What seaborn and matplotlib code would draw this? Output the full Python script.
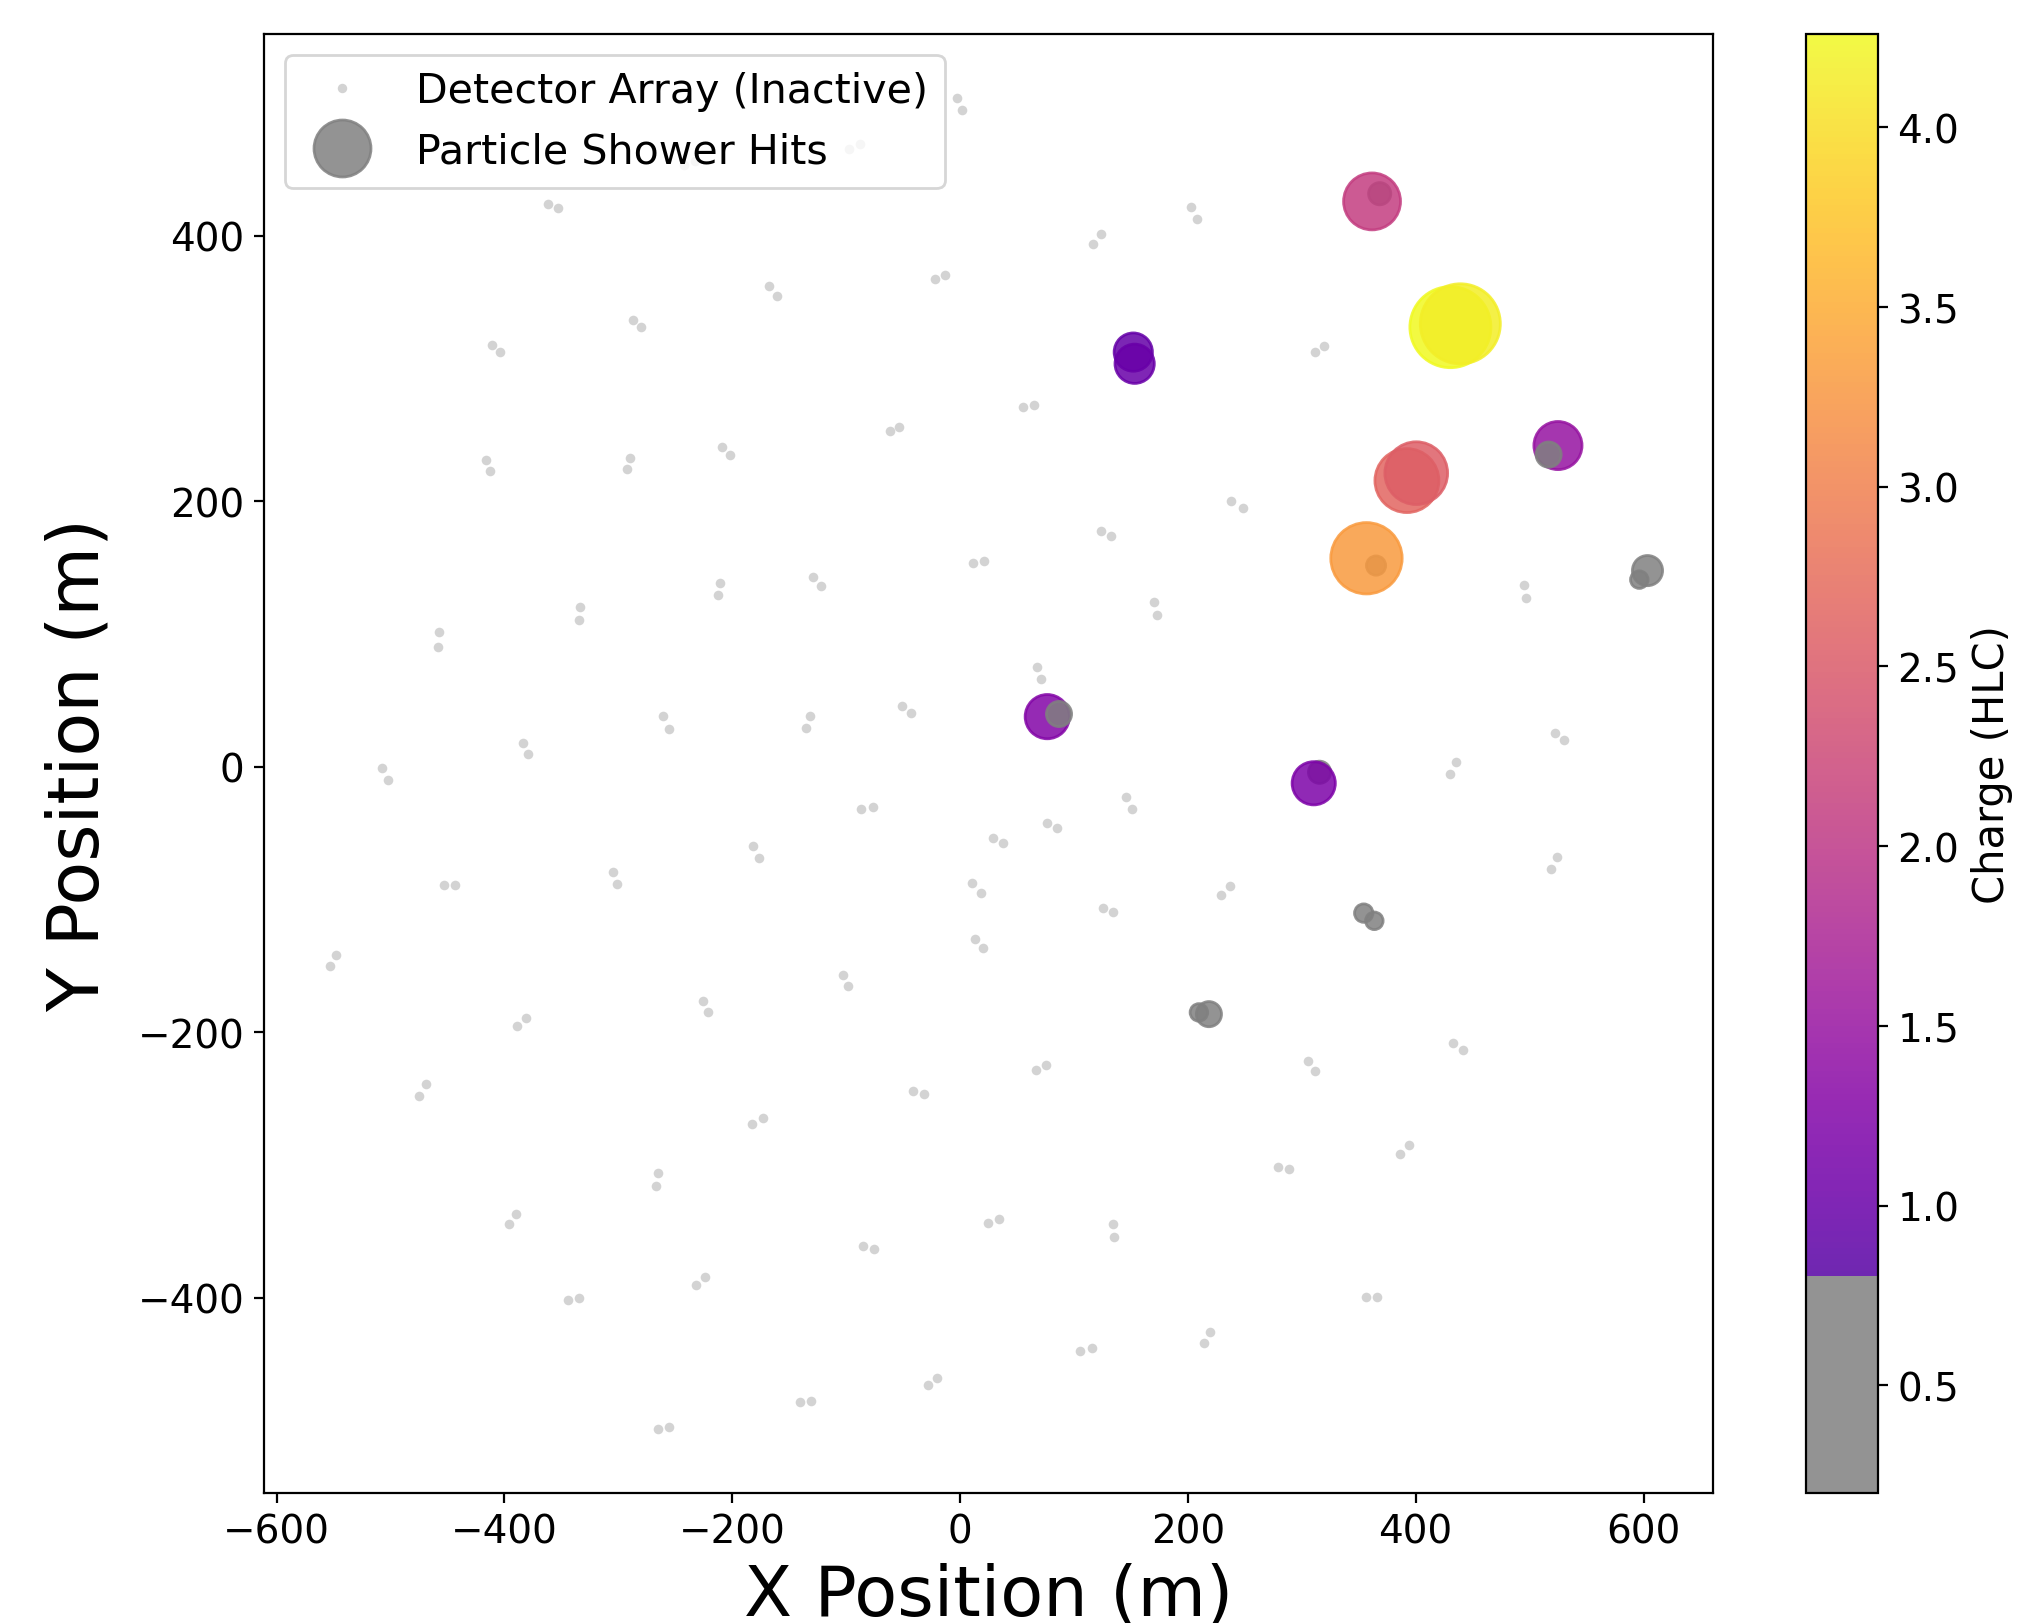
import numpy as np
import matplotlib
matplotlib.use("Agg")
import matplotlib.pyplot as plt
import seaborn as sns
import pandas as pd
from matplotlib.colors import ListedColormap, Normalize, to_rgba
from matplotlib.lines import Line2D

# ---------------- data ----------------
# inactive detector tanks (two tanks per station)
tank_x = [-362.0, -353.3, -241.9, -233.0, -97.3, -87.7, -2.3, 2.0, -287.4, -280.1,
          -411.1, -403.7, -416.0, -412.3, -289.4, -292.7, -209.0, -201.8, 202.4, 207.7,
          116.9, 123.5, -167.6, -161.1, -22.2, -12.9, 55.6, 64.9, -61.6, -53.5,
          237.5, 248.6, 312.0, 319.9, -457.0, -458.5, -333.3, -334.4, -210.5, -212.3,
          -260.6, -255.9, -383.9, -379.0, -507.3, -502.3, -452.6, -443.0, -304.6, -300.9,
          -548.2, -553.5, -225.2, -221.6, -129.5, -122.1, 11.4, 21.1, 124.0, 132.7,
          170.2, 172.6, 67.3, 71.3, -51.1, -43.2, -131.6, -134.8, -86.5, -76.5,
          -181.3, -176.3, 145.4, 150.7, 76.1, 85.4, 29.2, 37.4, 10.5, 18.5,
          125.5, 134.5, 236.6, 228.7, 13.2, 20.5, -102.6, -98.2, 495.3, 496.5,
          521.9, 530.4, 435.3, 429.9, 524.0, 518.4, -381.3, -388.9, -468.7, -474.5,
          -182.4, -173.1, -265.5, -266.6, -390.1, -395.6, -344.5, -334.4, -224.0, -231.6,
          -265.5, -255.9, 66.4, 75.7, -40.9, -31.6, -85.3, -75.7, 24.8, 34.2,
          134.0, 135.1, 219.6, 214.3, 105.5, 115.6, -27.8, -20.2, -140.4, -130.5,
          305.2, 311.4, 432.8, 441.5, 279.3, 289.2, 393.9, 386.3, 356.4, 366.0]
tank_y = [424.1, 421.1, 453.0, 456.0, 465.5, 468.8, 504.0, 495.0, 336.7, 331.2,
          318.1, 312.4, 231.4, 222.7, 232.5, 224.2, 241.2, 235.0, 421.7, 412.8,
          393.5, 401.0, 362.1, 354.3, 367.4, 370.4, 270.9, 272.7, 252.8, 255.6,
          200.5, 195.0, 312.4, 316.9, 101.4, 90.5, 120.2, 110.9, 138.8, 129.5,
          38.1, 28.5, 17.9, 9.6, -1.1, -10.2, -89.1, -89.1, -79.1, -88.1,
          -141.8, -150.3, -176.3, -185.0, 142.8, 136.0, 153.4, 155.3, 177.5, 174.2,
          124.0, 114.4, 75.0, 66.4, 46.0, 40.3, 38.3, 29.0, -31.8, -30.1,
          -59.5, -68.7, -23.0, -31.6, -42.6, -46.3, -53.4, -57.7, -87.8, -94.9,
          -106.6, -109.2, -89.8, -96.4, -129.8, -136.6, -156.7, -165.0, 136.8, 127.2,
          25.5, 20.4, 3.4, -5.2, -67.8, -77.0, -189.3, -195.6, -239.1, -247.9,
          -269.2, -264.9, -305.6, -315.9, -336.5, -344.6, -401.6, -399.8, -384.0, -390.5,
          -499.0, -497.5, -228.3, -224.5, -244.1, -246.6, -360.6, -363.4, -343.6, -340.6,
          -344.6, -354.4, -425.4, -433.7, -440.0, -438.0, -465.7, -460.1, -478.7, -477.7,
          -221.7, -229.3, -207.9, -213.2, -301.6, -302.6, -284.5, -291.6, -399.1, -399.6]

# tanks that recorded a hit (drawing order as in the reference)
hit_x = [368.4, 361.7, 430.5, 439.2, 152.1, 153.3, 524.9, 516.7, 392.3, 400.5,
         365.2, 356.8, 603.5, 596.3, 76.6, 86.9, 315.6, 310.5, 354.4, 363.7,
         218.5, 209.7]
hit_y = [431.7, 425.9, 331.2, 333.7, 312.4, 303.6, 242.0, 235.2, 215.6, 221.2,
         151.6, 157.1, 147.8, 141.0, 37.8, 39.8, -4.1, -12.4, -110.2, -116.0,
         -186.3, -185.0]
hit_charge = [0.32, 2.1, 4.26, 4.15, 0.95, 1.0, 1.5, 0.41, 2.65, 2.55,
              0.24, 3.3, 0.59, 0.2, 1.27, 0.41, 0.32, 1.21, 0.22, 0.2,
              0.41, 0.2]

charge_threshold = 0.8
x_ticks = [-600, -400, -200, 0, 200, 400, 600]
y_ticks = [-400, -200, 0, 200, 400]
cbar_ticks = [0.5, 1.0, 1.5, 2.0, 2.5, 3.0, 3.5, 4.0]

# ---------------- figure ----------------
W, H = 2020, 1624
fig = plt.figure(figsize=(W / 200, H / 200), dpi=200)
ax = fig.add_axes([264 / W, 130 / H, 1449 / W, 1459 / H])
cax = fig.add_axes([1806 / W, 130 / H, 72 / W, 1459 / H])

vmin, vmax = min(hit_charge), max(hit_charge)
base = plt.cm.plasma(np.linspace(0, 1, 512))
n_gray = int(round((charge_threshold - vmin) / (vmax - vmin) * 512))
base[:n_gray] = to_rgba("gray")
cmap = ListedColormap(base)
norm = Normalize(vmin=vmin, vmax=vmax)

tanks = pd.DataFrame({"x": tank_x, "y": tank_y})
hits = pd.DataFrame({"x": hit_x, "y": hit_y, "charge": hit_charge})

sns.scatterplot(data=tanks, x="x", y="y", color="lightgray", s=12,
                linewidth=0, ax=ax, legend=False, zorder=1)
sns.scatterplot(data=hits, x="x", y="y", hue="charge", palette=cmap,
                hue_norm=norm, size="charge", sizes=(200 * vmin, 200 * vmax),
                size_norm=norm, alpha=0.85, edgecolor="face", linewidth=1.0,
                ax=ax, legend=False, zorder=2)

ax.set_xlim(-611, 661)
ax.set_ylim(-547, 552)
ax.set_xticks(x_ticks)
ax.set_yticks(y_ticks)
ax.tick_params(labelsize=14)
ax.set_xlabel("X Position (m)", fontsize=25.3)
ax.set_ylabel("Y Position (m)", fontsize=25.8, labelpad=8.5)

handles = [
    Line2D([0], [0], marker="o", linestyle="none", markerfacecolor="lightgray",
           markeredgecolor="lightgray", markersize=3.4, markeredgewidth=0),
    Line2D([0], [0], marker="o", linestyle="none", markerfacecolor="gray",
           markeredgecolor="gray", alpha=0.85, markersize=20.5, markeredgewidth=1),
]
ax.legend(handles, ["Detector Array (Inactive)", "Particle Shower Hits"],
          loc="upper left", fontsize=14.8)

sm = plt.cm.ScalarMappable(norm=norm, cmap=cmap)
sm.set_array([])
cbar = fig.colorbar(sm, cax=cax, alpha=0.85)
cbar.set_ticks(cbar_ticks)
cbar.ax.tick_params(labelsize=14)
cbar.set_label("Charge (HLC)", fontsize=15)

fig.savefig("out.png", dpi=200)
